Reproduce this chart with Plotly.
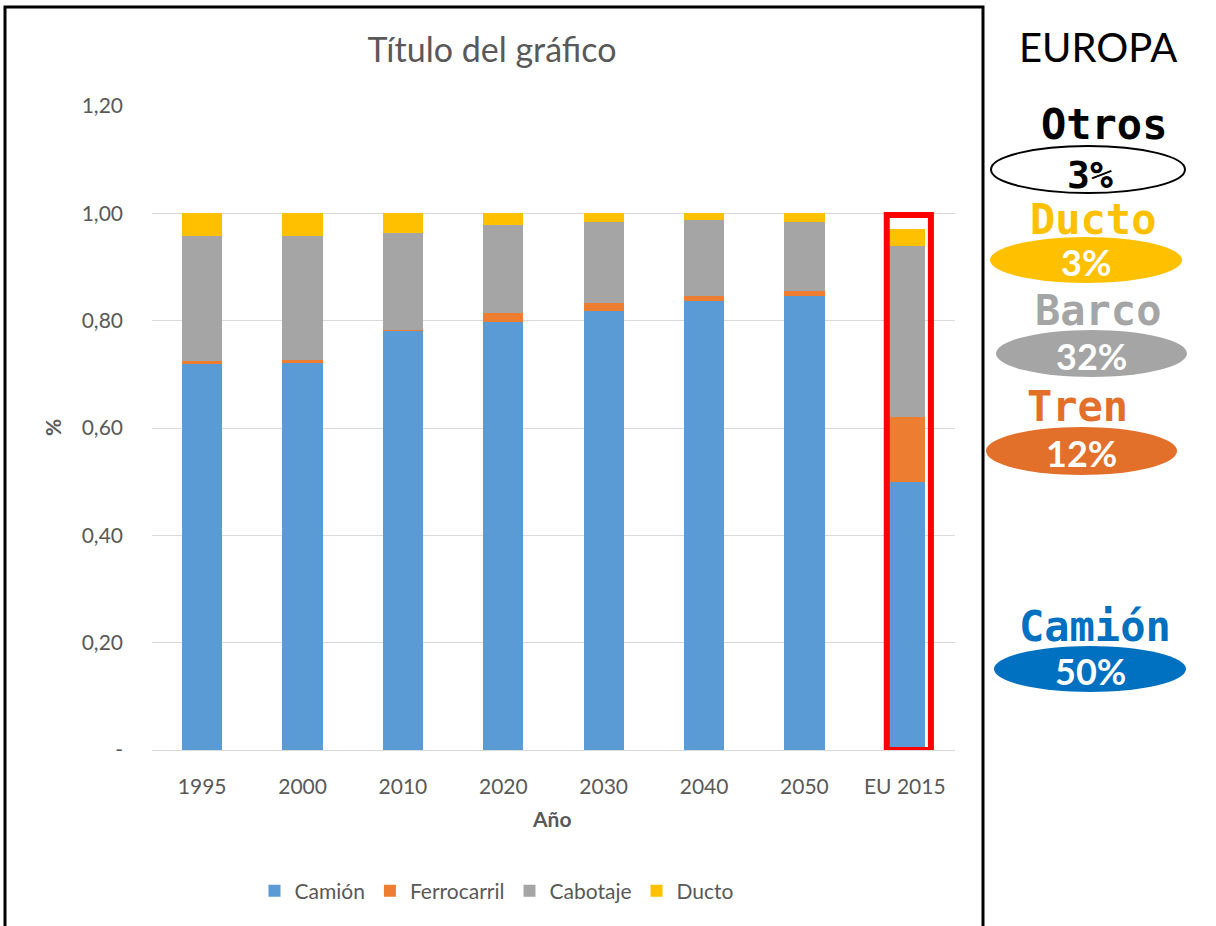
import plotly.graph_objects as go

W, H = 1216, 926

categories = ["1995", "2000", "2010", "2020", "2030", "2040", "2050", "EU 2015"]
camion = [0.720, 0.721, 0.781, 0.798, 0.818, 0.836, 0.846, 0.50]
ferrocarril = [0.004, 0.005, 0.002, 0.017, 0.014, 0.010, 0.009, 0.12]
cabotaje = [0.234, 0.232, 0.180, 0.163, 0.152, 0.141, 0.129, 0.32]
ducto = [0.042, 0.042, 0.037, 0.022, 0.016, 0.013, 0.016, 0.03]

series_names = ["Camión", "Ferrocarril", "Cabotaje", "Ducto"]
series_colors = ["#5B9BD5", "#ED7D31", "#A5A5A5", "#FFC000"]

ytick_vals = [0, 0.2, 0.4, 0.6, 0.8, 1.0, 1.2]
ytick_text = ["-", "0,20", "0,40", "0,60", "0,80", "1,00", "1,20"]

# Right-hand panel (EUROPA shares)
panel_labels = ["Otros", "Ducto", "Barco", "Tren", "Camión"]
panel_values = ["3%", "3%", "32%", "12%", "50%"]
panel_colors = ["#000000", "#FFC000", "#A5A5A5", "#E2702A", "#0070C0"]

FONT = "Lato"


def fx(x):
    return x / W


def fy(y):
    return 1 - y / H


fig = go.Figure()
for name, vals, col in zip(series_names, [camion, ferrocarril, cabotaje, ducto], series_colors):
    fig.add_trace(go.Bar(x=categories, y=vals, name=name, marker=dict(color=col, line=dict(width=0))))

shapes = []
annotations = []

# outer black border of chart
shapes.append(dict(type="rect", xref="paper", yref="paper", x0=fx(5), x1=fx(983), y0=fy(960), y1=fy(7),
                   line=dict(color="black", width=3), fillcolor="rgba(0,0,0,0)", layer="above"))

# red highlight around EU 2015 bar
shapes.append(dict(type="rect", xref="x", yref="y", x0=6.82, x1=7.26, y0=0.0, y1=0.997,
                   line=dict(color="#FF0000", width=6), layer="above"))


def ann(text, x, y, size, color, family=FONT, angle=0):
    annotations.append(dict(text=text, xref="paper", yref="paper", x=fx(x), y=fy(y), xanchor="center",
                            yanchor="middle", showarrow=False, textangle=angle,
                            font=dict(family=family, size=size, color=color)))


# Axis titles
ann("<b>%</b>", 52, 428, 21, "#595959", angle=-90)
ann("<b>Año</b>", 551, 818, 21, "#595959")

# EUROPA panel
ann("EUROPA", 1098, 47, 40, "black")

label_pos = [(1104, 124), (1093, 219), (1098, 311), (1077, 406), (1095, 626)]
ell_pos = [(991, 146, 1185, 193), (990, 237, 1182, 283), (996, 330, 1187, 377), (986, 427, 1177, 475),
           (994, 646, 1186, 692)]
for i, (lab, val, col) in enumerate(zip(panel_labels, panel_values, panel_colors)):
    lx, ly = label_pos[i]
    x0, y0, x1, y1 = ell_pos[i]
    if i == 0:
        shapes.append(dict(type="circle", xref="paper", yref="paper", x0=fx(x0), x1=fx(x1), y0=fy(y1), y1=fy(y0),
                           line=dict(color="black", width=2), fillcolor="white", layer="below"))
        ann("<b>" + val + "</b>", (x0 + x1) / 2 + 2, 175, 38, "black", family="DejaVu Sans Mono")
    else:
        shapes.append(dict(type="circle", xref="paper", yref="paper", x0=fx(x0), x1=fx(x1), y0=fy(y1), y1=fy(y0),
                           line=dict(width=0), fillcolor=col, layer="below"))
        ann("<b>" + val + "</b>", (x0 + x1) / 2, (y0 + y1) / 2 + 2, 36, "white")
    ann("<b>" + lab + "</b>", lx, ly, 42, col, family="DejaVu Sans Mono")

fig.update_layout(
    width=W, height=H,
    margin=dict(l=0, r=0, t=0, b=0),
    paper_bgcolor="white", plot_bgcolor="white",
    barmode="stack", bargap=0.6,
    font=dict(family=FONT, size=21, color="#595959"),
    title=dict(text="Título del gráfico", x=fx(492), y=fy(50), xanchor="center", yanchor="middle",
               font=dict(family=FONT, size=34, color="#595959")),
    xaxis=dict(domain=[fx(152), fx(955)], showgrid=False, showline=True, linecolor="#D9D9D9", linewidth=1,
               ticks="", tickfont=dict(size=21, color="#595959"), ticklabelstandoff=18, automargin=False),
    yaxis=dict(domain=[fy(750), fy(106)], range=[0, 1.2], tickvals=ytick_vals, ticktext=ytick_text,
               showgrid=True, gridcolor="#D9D9D9", gridwidth=1, zeroline=False, showline=False,
               tickfont=dict(size=21, color="#595959"), ticklabelstandoff=28, automargin=False),
    legend=dict(orientation="h", x=fx(497), xanchor="center", y=fy(891), yanchor="middle",
                font=dict(size=21, color="#595959"), traceorder="normal", itemclick=False),
    shapes=shapes, annotations=annotations,
)

fig.write_html("out.html", config={"displayModeBar": False},
               post_script="document.body.style.margin='0';document.body.style.overflow='hidden';")
